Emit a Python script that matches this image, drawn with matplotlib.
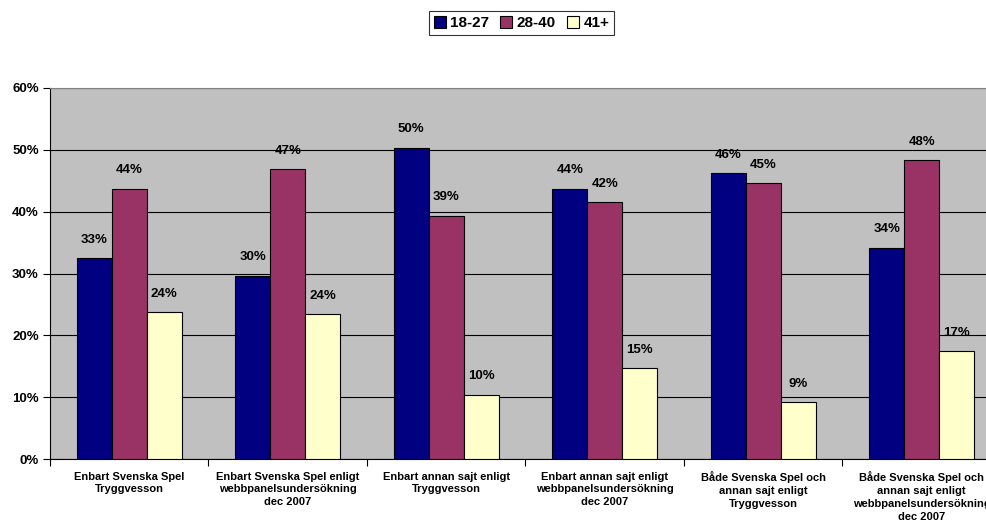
import matplotlib
matplotlib.use("Agg")
import matplotlib.pyplot as plt
import numpy as np

categories = [
    "Enbart Svenska Spel\nTryggvesson",
    "Enbart Svenska Spel enligt\nwebbpanelsundersökning\ndec 2007",
    "Enbart annan sajt enligt\nTryggvesson",
    "Enbart annan sajt enligt\nwebbpanelsundersökning\ndec 2007",
    "Både Svenska Spel och\nannan sajt enligt\nTryggvesson",
    "Både Svenska Spel och\nannan sajt enligt\nwebbpanelsundersökning\ndec 2007",
]
series_names = ["18-27", "28-40", "41+"]
values_18_27 = [32.5, 29.6, 50.3, 43.7, 46.2, 34.2]
values_28_40 = [43.7, 46.9, 39.3, 41.5, 44.6, 48.3]
values_41 = [23.7, 23.4, 10.4, 14.7, 9.2, 17.4]
labels_18_27 = ["33%", "30%", "50%", "44%", "46%", "34%"]
labels_28_40 = ["44%", "47%", "39%", "42%", "45%", "48%"]
labels_41 = ["24%", "24%", "10%", "15%", "9%", "17%"]
y_ticks = [0, 10, 20, 30, 40, 50, 60]
y_tick_labels = ["0%", "10%", "20%", "30%", "40%", "50%", "60%"]

colors = ["#000080", "#993366", "#FFFFCC"]

plt.rcParams['font.family'] = ['Liberation Sans', 'DejaVu Sans']
plt.rcParams['font.weight'] = 'bold'

W, H = 987, 525
fig = plt.figure(figsize=(W / 100, H / 100), dpi=100)
left, right, top, bottom = 50, 1001, 88, 459
ax = fig.add_axes([left / W, 1 - bottom / H, (right - left) / W, (bottom - top) / H])
ax.set_facecolor("#C0C0C0")

x = np.arange(len(categories))
bw = 0.221
all_vals = [values_18_27, values_28_40, values_41]
all_labels = [labels_18_27, labels_28_40, labels_41]
for i, (vals, labs) in enumerate(zip(all_vals, all_labels)):
    pos = x + (i - 1) * bw
    ax.bar(pos, vals, width=bw, color=colors[i], edgecolor="black", linewidth=0.8,
           label=series_names[i], zorder=3)
    for p, v, l in zip(pos, vals, labs):
        ax.annotate(l, (p, v), xytext=(0, 9), textcoords="offset points",
                    ha="center", va="bottom", fontsize=9.5, fontweight="bold", zorder=4)

ax.set_xlim(-0.5, len(categories) - 0.5)
ax.set_ylim(0, 60)
ax.set_yticks(y_ticks)
ax.set_yticklabels(y_tick_labels, fontsize=9.5, fontweight="bold")
ax.yaxis.grid(True, color="black", linewidth=0.8, zorder=0)
ax.set_axisbelow(True)

ax.set_xticks(np.arange(len(categories) + 1) - 0.5)
ax.set_xticklabels([])
ax.set_xticks(x, minor=True)
ax.set_xticklabels(categories, minor=True, fontsize=8, fontweight="bold", linespacing=1.35)
ax.tick_params(axis="x", which="minor", length=0, pad=9)
ax.tick_params(axis="x", which="major", length=5, direction="out", width=0.8)
ax.tick_params(axis="y", length=5, direction="out", width=0.8, pad=3)

for s in ["top", "right"]:
    ax.spines[s].set_color("#808080")
    ax.spines[s].set_linewidth(0.8)
for s in ["left", "bottom"]:
    ax.spines[s].set_color("black")
    ax.spines[s].set_linewidth(0.8)

leg = fig.legend(loc="center", bbox_to_anchor=(521.5 / W, 1 - 23 / H), ncol=3,
                 frameon=True, fancybox=False, edgecolor="black", handlelength=0.8,
                 handleheight=0.8, handletextpad=0.3, columnspacing=0.7,
                 borderpad=0.3, prop={"weight": "bold", "size": 11})
leg.get_frame().set_linewidth(0.8)

fig.savefig("out.png", dpi=100)
